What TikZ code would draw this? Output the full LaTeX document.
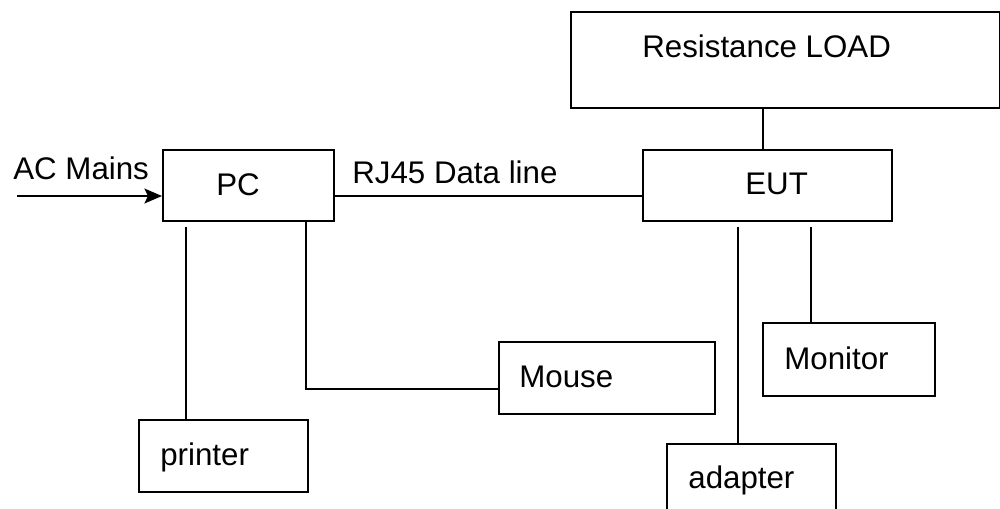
\documentclass[tikz,border=0pt]{standalone}
\usepackage{fontspec}
\setmainfont{Liberation Sans}
\usetikzlibrary{arrows.meta,positioning}

\begin{document}
\begin{tikzpicture}[x=0.02cm, y=-0.02cm,
    box/.style={draw, line width=1.1pt, anchor=north west, inner sep=0pt},
    tag/.style={anchor=base west, inner sep=0pt, font=\fontsize{17.8}{21}\selectfont},
    wire/.style={line width=1pt}]
    \useasboundingbox (0,0) rectangle (1000,508);

    % 方框
    \node[box, minimum width=8.58cm, minimum height=1.92cm] (load) at (570,11) {};
    \node[box, minimum width=3.42cm, minimum height=1.42cm] (pc) at (162,149) {};
    \node[box, minimum width=4.98cm, minimum height=1.42cm] (eut) at (642,149) {};
    \node[box, minimum width=4.32cm, minimum height=1.44cm] (mouse) at (498,341) {};
    \node[box, minimum width=3.38cm, minimum height=1.44cm] (printer) at (138,419) {};
    \node[box, minimum width=3.44cm, minimum height=1.46cm] (monitor) at (762,322) {};
    \node[box, minimum width=3.38cm, minimum height=1.48cm] (adapter) at (666,443) {};

    % 文字
    \node[tag] (loadtxt) at (642,57) {Resistance LOAD};
    \node[tag] (pctxt) at (216,195) {PC};
    \node[tag] (euttxt) at (745,194) {EUT};
    \node[tag] (mousetxt) at (519,387) {Mouse};
    \node[tag] (printertxt) at (160,465) {printer};
    \node[tag] (monitortxt) at (784,369) {Monitor};
    \node[tag] (adaptertxt) at (688,488) {adapter};
    \node[tag] (actxt) at (13,179) {AC Mains};
    \node[tag] (rjtxt) at (352,183) {RJ45 Data line};

    % 连线
    \coordinate (ac) at (17,196);
    \coordinate (l1) at (763,107);
    \coordinate (p1) at (186,227);
    \coordinate (m1) at (306,389);
    \coordinate (a1) at (738,227);
    \coordinate (m2) at (811,227);

    \draw[wire, -{Stealth[length=10pt, width=8.5pt, inset=2pt]}] (ac) -- (ac -| pc.west);
    \draw[wire] (pc.east |- ac) -- (eut.west |- ac);
    \draw[wire] (l1 |- load.south) -- (l1 |- eut.north);
    \draw[wire] (p1) -- (p1 |- printer.north);
    \draw[wire] (pc.south -| m1) -- (m1) -- (m1 -| mouse.west);
    \draw[wire] (a1) -- (a1 |- adapter.north);
    \draw[wire] (m2) -- (m2 |- monitor.north);
\end{tikzpicture}
\end{document}
